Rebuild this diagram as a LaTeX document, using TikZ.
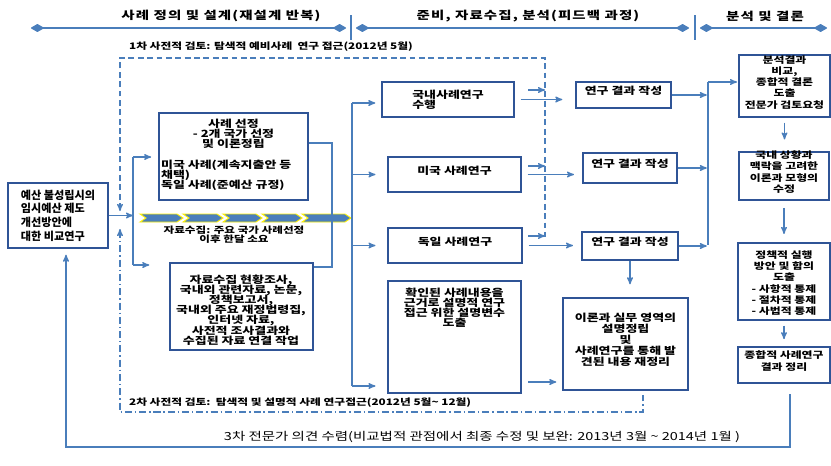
\documentclass[tikz,border=0pt]{standalone}
\usepackage{fontspec}
\setmainfont{Noto Sans CJK KR}[FakeStretch=1.3]
\newfontfamily\plainkr{Noto Sans CJK KR}
\newfontfamily\headkr{Noto Sans CJK KR}[FakeStretch=1.3, LetterSpace=10]
\usepackage{tikz}
\usetikzlibrary{arrows,positioning,fit}
\definecolor{lineblue}{RGB}{74,126,187}
\definecolor{boxblue}{RGB}{47,84,150}
\newcommand\tightlines{\lineskiplimit=-100pt\lineskip=0pt\relax}

\begin{document}
\begin{tikzpicture}[-,>=stealth',x=0.03cm,y=-0.03cm,
  box/.style={draw=boxblue, line width=1.4pt, inner sep=0pt, align=center, font=\fontsize{8.5}{8.7}\selectfont\bfseries\tightlines},
  txt/.style={align=center, font=\fontsize{8.5}{8.7}\selectfont\bfseries\tightlines},
  side/.style={box, font=\fontsize{7.8}{9.6}\selectfont\bfseries\tightlines},
  head/.style={font=\headkr\fontsize{9.5}{10}\selectfont\bfseries},
  small/.style={font=\fontsize{7.7}{9}\selectfont\bfseries},
  flow/.style={draw=lineblue, line width=1.1pt},
  dashline/.style={draw=lineblue, line width=1.1pt, dash pattern=on 5pt off 3pt},
  dotline/.style={draw=lineblue, line width=1.1pt, dash pattern=on 6pt off 2.5pt on 1.2pt off 2.5pt}]
  \useasboundingbox (0,0) rectangle (831,465);

  % time line on top
  \coordinate (t0) at (31,28);  \coordinate (t1) at (346,28);
  \coordinate (t2) at (356,28); \coordinate (t3) at (689,28);
  \coordinate (t4) at (700,28); \coordinate (t5) at (827,28);
  \coordinate (k1) at (351,15); \coordinate (k2) at (695,15);
  \draw[flow, diamond-diamond] (t0) -- (t1);
  \draw[flow, diamond-diamond] (t2) -- (t3);
  \draw[flow, diamond-diamond] (t4) -- (t5);
  \draw[flow, line width=1.6pt] (k1) -- ++(0,25);
  \draw[flow, line width=1.6pt] (k2) -- ++(0,25);
  \node (h1) [head] at (221,16) {사례 정의 및 설계(재설계 반복)};
  \node (h2) [head] at (528,16) {준비, 자료수집, 분석(피드백 과정)};
  \node (h3) [head] at (765,16) {분석 및 결론};

  % review regions
  \node (pre1) [small, anchor=west] at (125,47) {1차 사전적 검토: 탐색적 예비사례\ \ 연구 접근(2012년 5월)};
  \node (pre2) [small, anchor=west] at (125,403) {2차 사전적 검토:\ \ 탐색적 및 설명적 사례 연구접근(2012년 5월\textasciitilde{} 12월)};
  \coordinate (d1a) at (120,211); \coordinate (d1b) at (545,58); \coordinate (d1c) at (545,237);
  \coordinate (d2a) at (120,229); \coordinate (d2b) at (643,412); \coordinate (d2c) at (643,395);
  \draw[dashline,<-] (d1a) |- (d1b) -- (d1c);
  \draw[dotline,<-] (d2a) |- (d2b) -- (d2c);

  % collection arrow
  \foreach \a/\b in {140/183,183/223,223/262,262/302,302/351}
    \filldraw[fill=lineblue, draw=yellow, line width=0.8pt] (\a,214) -- (\b-6,214) -- (\b,218) -- (\b-6,222) -- (\a,222) -- (\a+6,218) -- cycle;
  \node (coll) [align=center, font=\fontsize{7.6}{7.8}\selectfont\bfseries\tightlines] at (234,235) {자료수집: 주요 국가 사례선정\\이후 한달 소요};

  % design
  \node (inp) [box, fit={(8,183) (108,248)}] {};
  \node (inpT) [align=left, font=\plainkr\fontsize{9.5}{11.6}\selectfont\bfseries\tightlines] at (inp) {예산 불성립시의\\임시예산 제도\\개선방안에\\대한 비교연구};
  \node (sel) [box, fit={(159,113) (308,200)}] {};
  \node (selT) [txt, below=2pt of sel.north] {사례 선정\\- 2개 국가 선정\\및 이론정립};
  \node (selL) [txt, align=left, anchor=north west] at (157,156) {미국 사례(계속지출안 등\\채택)\\독일 사례(준예산 규정)};
  \node (col) [box, fit={(170,263) (313,350)}] {};
  \node (colT) [txt] at (241,310) {자료수집 현황조사,\\국내외 관련자료, 논문,\\정책보고서,\\국내외 주요 재정법령집,\\인터넷 자료,\\사전적 조사결과와\\수집된 자료 연결 작업};

  % case studies
  \node (kor) [box, fit={(382,82) (514,117)}] {};
  \node (korT) [txt, align=left] at (kor) {국내사례연구\\수행};
  \node (usa) [box, fit={(388,157) (521,192)}] {미국 사례연구};
  \node (ger) [box, fit={(388,228) (522,263)}] {독일 사례연구};
  \node (exp) [box, fit={(388,281) (521,393)}] {};
  \node (expT) [txt, below=3pt of exp.north] {확인된 사례내용을\\근거로 설명적 연구\\접근 위한 설명변수\\도출};

  \node (res1) [box, fit={(576,82) (671,108)}] {연구 결과 작성};
  \node (res2) [box, fit={(583,153) (677,183)}] {연구 결과 작성};
  \node (res3) [box, fit={(582,232) (678,260)}] {연구 결과 작성};
  \node (theo) [box, fit={(563,298) (688,390)}, font=\fontsize{8.5}{9.5}\selectfont\bfseries\tightlines] {이론과 실무 영역의\\설명정립\\및\\사례연구를 통해 발\\견된 내용 재정리};

  % conclusion
  \node (concl) [side, fit={(739,55) (830,117)}] {분석결과\\비교,\\종합적 결론\\도출\\전문가 검토요청};
  \node (adapt) [side, fit={(739,152) (829,200)}] {국내 상황과\\맥락을 고려한\\이론과 모형의\\수정};
  \node (policy) [side, fit={(738,243) (830,320)}] {};
  \node (policyT) [side, draw=none] at (784,283) {정책적 실행\\방안 및 함의\\도출\\- 사항적 통제\\- 절차적 통제\\- 사법적 통제};
  \node (summ) [side, fit={(738,347) (830,383)}] {종합적 사례연구\\결과 정리};

  % connectors
  \coordinate (b1) at (133,157); \coordinate (b2) at (133,265);
  \coordinate (r1) at (332,143); \coordinate (r2) at (332,267);
  \coordinate (c1) at (352,103); \coordinate (c4) at (352,386);
  \coordinate (s1) at (528,90);  \coordinate (s2) at (528,166); \coordinate (s3) at (528,236);
  \coordinate (e1) at (528,382);
  \coordinate (m1) at (708,82);  \coordinate (m2) at (708,245);
  \coordinate (f1) at (790,447); \coordinate (f2) at (66,447);

  \draw[flow,->] (inp.east) -- (inp.east -| b1);
  \draw[flow] (b1) -- (b2);
  \draw[flow,->,shorten >=6pt] (b1) -- (b1 -| sel.west);
  \draw[flow,->,shorten >=17pt] (b2) -- (b2 -| col.west);
  \draw[flow] (sel.east |- r1) -- (r1) -- (r2) -- (col.east |- r2);

  \draw[flow] (c1) -- (c4);
  \draw[flow,->,shorten >=5pt] (c1) -- (c1 -| kor.west);
  \draw[flow,->,shorten >=10pt] (c1 |- usa.west) -- (usa.west);
  \draw[flow,->,shorten >=10pt] (c1 |- ger.west) -- (ger.west);
  \draw[flow,->,shorten >=10pt] (c4) -- (c4 -| exp.west);

  \draw[flow,->] (s1) -- (s1 -| d1c);
  \draw[flow,->] (s2) -- (s2 -| d1c);
  \draw[flow,->] (s3) -- (s3 -| d1c);

  \draw[flow,->,shorten <=5pt,shorten >=11pt] (kor.east) -- (kor.east -| res1.west);
  \draw[flow,->,shorten <=5pt,shorten >=7pt] (usa.east) -- (usa.east -| res2.west);
  \draw[flow,->,shorten <=5pt,shorten >=7pt] (ger.east) -- (ger.east -| res3.west);
  \draw[flow,->,shorten >=5pt] (e1) -- (e1 -| theo.west);
  \draw[flow,->,shorten >=11pt] (res3.south) -- (res3.south |- theo.north);

  \draw[flow] (m1) -- (m2);
  \draw[flow,->,shorten >=1pt] (res1.east) -- (res1.east -| m1);
  \draw[flow,->,shorten >=1pt] (res2.east) -- (res2.east -| m1);
  \draw[flow,->,shorten >=1pt] (res3.east) -- (res3.east -| m1);
  \draw[flow,->,shorten >=1pt] (m1) -- (m1 -| concl.west);

  \draw[flow,->,shorten <=4pt,shorten >=10pt] (concl.south) -- (concl.south |- adapt.north);
  \draw[flow,->,shorten <=6pt,shorten >=7pt] (adapt.south) -- (adapt.south |- policy.north);
  \draw[flow,->,shorten <=4pt,shorten >=6pt] (policy.south) -- (policy.south |- summ.north);

  % feedback
  \draw[flow,->,shorten <=9pt,shorten >=5pt] (summ.south -| f1) -- (f1) -- (f2) -- (f2 |- inp.south);
  \node (fb) [font=\fontsize{9.5}{11}\selectfont] at (482,437) {3차 전문가 의견 수렴(비교법적 관점에서 최종 수정 및 보완: 2013년 3월 \textasciitilde{} 2014년 1월 )};
\end{tikzpicture}
\end{document}
